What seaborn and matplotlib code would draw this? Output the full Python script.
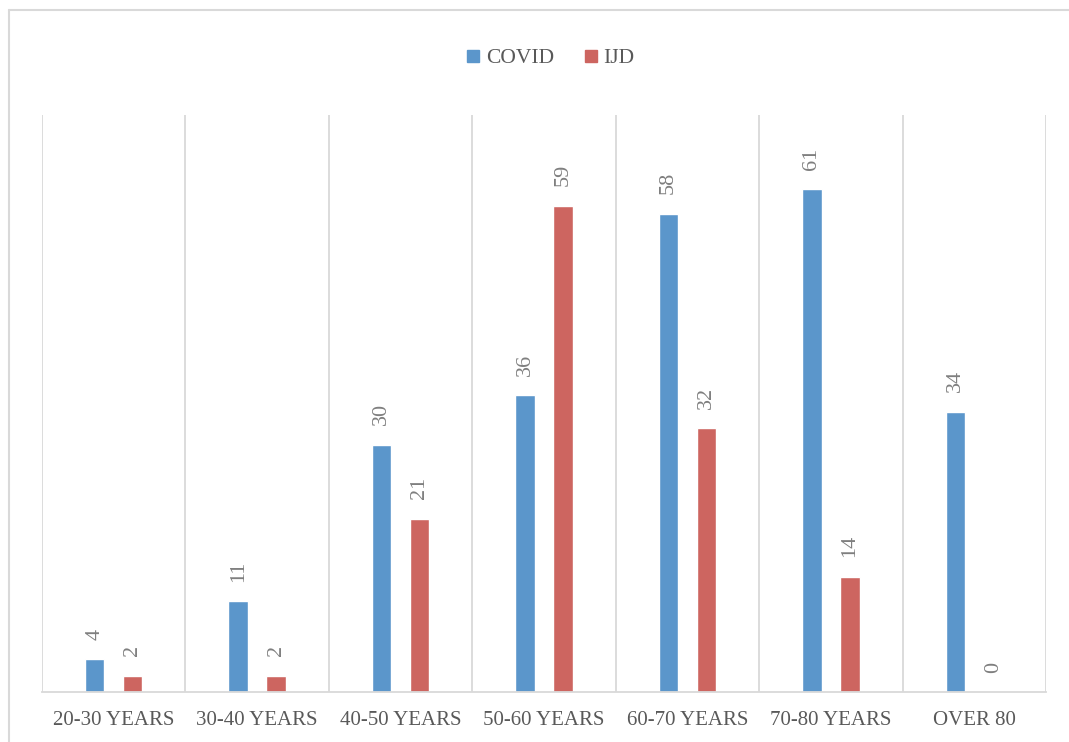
import matplotlib
matplotlib.use("Agg")
import matplotlib.pyplot as plt
from matplotlib.lines import Line2D
import seaborn as sns
import pandas as pd

# Patient counts by age group
age_groups = ["20-30 YEARS", "30-40 YEARS", "40-50 YEARS", "50-60 YEARS",
              "60-70 YEARS", "70-80 YEARS", "OVER 80"]
covid = [4, 11, 30, 36, 58, 61, 34]
ijd = [2, 2, 21, 59, 32, 14, 0]
series_names = ["COVID", "IJD"]
palette = ["#5B96CB", "#CD6560"]

df = pd.DataFrame({
    "age": age_groups * 2,
    "count": covid + ijd,
    "series": [series_names[0]] * len(age_groups) + [series_names[1]] * len(age_groups),
})

sns.set_theme(style="white")
plt.rcParams["font.family"] = ["Liberation Serif", "DejaVu Serif"]

W, H = 1069, 742
fig = plt.figure(figsize=(W / 100, H / 100), dpi=100)
ax = fig.add_axes([42 / W, 1 - 692 / H, (1046 - 42) / W, (692 - 115) / H])

sns.barplot(data=df, x="age", y="count", hue="series", order=age_groups,
            hue_order=series_names, palette=palette, width=0.53, gap=0.49,
            saturation=1, ax=ax, legend=False)

ax.set_xlim(-0.5, len(age_groups) - 0.5)
ax.set_ylim(0, 70)
ax.set_xlabel("")
ax.set_ylabel("")
ax.set_yticks([])

# vertical separators between categories
grid_color = "#D9D9D9"
for i in range(len(age_groups) + 1):
    ax.axvline(i - 0.5, color=grid_color, lw=1.3, zorder=0)

for s in ["top", "left", "right"]:
    ax.spines[s].set_visible(False)
ax.spines["bottom"].set_color(grid_color)
ax.spines["bottom"].set_linewidth(1.3)

ax.tick_params(axis="x", length=0, pad=14, labelsize=15, labelcolor="#595959")

# value labels above each bar
for container in ax.containers:
    for bar in container:
        h = bar.get_height()
        ax.annotate(f"{h:.0f}", (bar.get_x() + bar.get_width() / 2, h),
                    xytext=(0, 14), textcoords="offset points",
                    rotation=90, ha="center", va="bottom",
                    fontsize=16, color="#7F7F7F")

# legend across the top
handles = [Line2D([0], [0], marker="s", linestyle="", markersize=9,
                  markerfacecolor=c, markeredgecolor=c) for c in palette]
fig.legend(handles, series_names, loc="center", bbox_to_anchor=(0.513, 1 - 58 / H),
           ncol=2, frameon=False, fontsize=15.5, labelcolor="#595959",
           handletextpad=0.1, columnspacing=1.2, handlelength=1.0)

# outer chart frame
frame_color = "#D9D9D9"
fig.add_artist(Line2D([8.5 / W, 8.5 / W], [0, 1 - 10 / H], color=frame_color,
                      lw=1.5, transform=fig.transFigure))
fig.add_artist(Line2D([8.5 / W, 1], [1 - 10 / H, 1 - 10 / H], color=frame_color,
                      lw=1.5, transform=fig.transFigure))

fig.savefig("out.png", dpi=100, facecolor="white")
